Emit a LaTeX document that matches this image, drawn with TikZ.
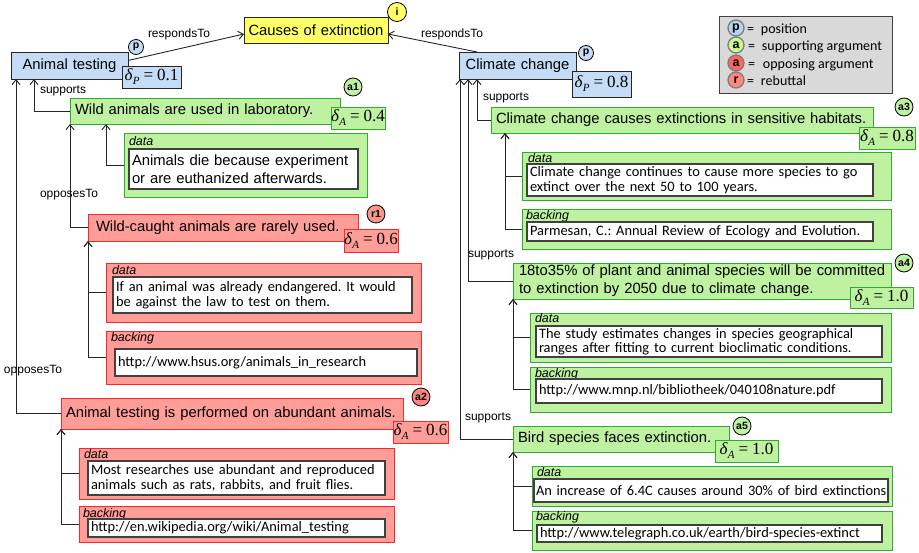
\documentclass[tikz,border=0pt]{standalone}
\usepackage{fontspec}
\setmainfont{Liberation Sans}
\newfontfamily\calib{Carlito}
\newfontfamily\timesf{Liberation Serif}
\usetikzlibrary{arrows.meta}
\frenchspacing

\definecolor{issuefill}{RGB}{255,255,102}
\definecolor{posfill}{RGB}{196,220,246}
\definecolor{supfill}{RGB}{190,241,160}
\definecolor{supline}{RGB}{52,168,52}
\definecolor{oppfill}{RGB}{255,158,152}
\definecolor{oppline}{RGB}{250,40,40}
\definecolor{rebfill}{RGB}{252,150,140}
\definecolor{keyfill}{RGB}{217,217,217}
\definecolor{keyline}{RGB}{125,125,125}
\definecolor{keypos}{RGB}{178,214,236}
\definecolor{keysup}{RGB}{204,250,150}
\definecolor{keyopp}{RGB}{255,100,100}
\definecolor{keyreb}{RGB}{255,135,125}

\newcommand\mainsize{\fontsize{14.8}{17.8}\selectfont}
\newcommand\calsize{\calib\fontsize{14.4}{14.5}\selectfont}
\newcommand\degsize{\timesf\fontsize{17}{17}\selectfont}
\newcommand\tagsize{\itshape\fontsize{12.5}{14}\selectfont}
\newcommand\lblsize{\fontsize{12}{14}\selectfont}
\newcommand\badgesize{\bfseries\fontsize{10.5}{11}\selectfont}
\newcommand\keysize{\bfseries\fontsize{12.5}{13}\selectfont}
\newcommand\oneline[1]{\mbox{#1}}
% degree label: italic delta with a subscript, then "= value"
\newcommand\degree[2]{\mbox{\itshape δ\kern0.3pt\raisebox{-4pt}{\fontsize{11}{11}\selectfont #1}\upshape\hspace{4pt}=\hspace{4pt}#2}}

% rectangle node given by its corners: style, name, x1, y1, x2, y2, inset, text
\newcommand\rectnode[8]{%
  \pgfmathsetmacro\rw{#5-#3}%
  \pgfmathsetmacro\rh{#6-#4}%
  \pgfmathsetmacro\tw{#5-#3-2*#7}%
  \node[#1, anchor=north west, inner xsep=#7pt, inner ysep=0pt,
        minimum width=\rw pt, minimum height=\rh pt, text width=\tw pt]
        (#2) at (#3,#4) {#8};}

\tikzset{
  every node/.style={inner sep=0pt, outer sep=0pt},
  frame/.style={draw, line width=0.8pt},
  issuebox/.style={frame, draw=black!85, fill=issuefill, font=\mainsize, align=center},
  posbox/.style={frame, draw=black!85, fill=posfill, font=\mainsize, align=center},
  supbox/.style={frame, draw=supline, fill=supfill, font=\mainsize, align=left},
  oppbox/.style={frame, draw=oppline, fill=oppfill, font=\mainsize, align=left},
  dpos/.style={frame, draw=black!85, fill=posfill, font=\degsize, align=center},
  dsup/.style={frame, draw=supline, fill=supfill, font=\degsize, align=center},
  dopp/.style={frame, draw=oppline, fill=oppfill, font=\degsize, align=center},
  supframe/.style={frame, draw=supline, fill=supfill},
  oppframe/.style={frame, draw=oppline, fill=oppfill},
  innerbox/.style={draw=black!75, line width=1.2pt, fill=white, font=\calsize, align=left},
  tag/.style={anchor=base west, font=\tagsize},
  lbl/.style={anchor=base west, font=\lblsize},
  badge/.style={circle, draw=black, line width=0.8pt, minimum size=17pt, font=\badgesize},
  key/.style={circle, draw=keyline, line width=1.3pt, minimum size=16pt, font=\keysize},
  keytext/.style={anchor=base west, font=\calib\fontsize{14}{16}\selectfont},
  conn/.style={draw=black!85, line width=0.9pt,
    -{Straight Barb[length=5pt, width=8pt, line width=0.9pt]}},
}

\begin{document}
\begin{tikzpicture}[x=1pt, y=-1pt]
\useasboundingbox (0,0) rectangle (919,552);
\fill[white] (0,0) rectangle (919,552);

% issue and positions
\rectnode{issuebox}{C}{244}{17}{388}{43}{3}{Causes of extinction}
\rectnode{posbox}{AT}{11}{52}{128}{79}{3}{Animal testing}
\rectnode{posbox}{CC}{459}{52}{576}{79}{3}{Climate change}
\rectnode{dpos}{dAT}{122}{66}{181}{88}{0}{\degree{P}{0.1}}
\rectnode{dpos}{dCC}{572}{71}{631}{97}{0}{\degree{P}{0.8}}

% key
\rectnode{frame, draw=black!75, fill=keyfill}{K}{719}{16}{892}{93}{0}{}
\node[key, fill=keypos] (k1) at (736,28) {p};
\node[key, fill=keysup] (k2) at (736,45) {a};
\node[key, fill=keyopp] (k3) at (736,63) {a};
\node[key, fill=keyreb] (k4) at (736,80) {r};
\node[keytext] (k1t) at (747,33) {=\hspace{7pt}position};
\node[keytext] (k2t) at (748,50) {=\hspace{7pt}supporting argument};
\node[keytext] (k3t) at (748,68) {=\hspace{8pt}opposing argument};
\node[keytext] (k4t) at (747,85) {=\hspace{7pt}rebuttal};

% ---- Animal testing branch ----
\rectnode{supbox}{A1}{70}{98}{340}{124}{5}{\oneline{Wild animals are used in laboratory.}}
\rectnode{dsup}{dA1}{331}{107}{385}{129}{0}{\degree{A}{0.4}}
\rectnode{supframe}{A1d}{124}{133}{367}{197}{0}{}
\node[tag] (A1dl) at (129,145) {data};
\rectnode{innerbox, font=\mainsize}{A1dt}{129}{149}{358}{189}{3}{\oneline{Animals die because experiment}\\\oneline{or are euthanized afterwards.}}

\rectnode{oppbox}{R1}{88}{214}{358}{241}{8}{\oneline{Wild-caught animals are rarely used.}}
\rectnode{dopp}{dR1}{344}{229}{398}{252}{0}{\degree{A}{0.6}}
\rectnode{oppframe}{R1d}{106}{263}{421}{322}{0}{}
\node[tag] (R1dl) at (112,274) {data};
\rectnode{innerbox}{R1dt}{113}{277}{412}{313}{3}{\oneline{If an animal was already endangered. It would}\\\oneline{be against the law to test on them.}}
\rectnode{oppframe}{R1b}{106}{331}{421}{384}{0}{}
\node[tag] (R1bl) at (111,341) {backing};
\rectnode{innerbox}{R1bt}{115}{349}{417}{376}{3}{\oneline{http://www.hsus.org/animals\_in\_research}}

\rectnode{oppbox}{A2}{61}{398}{403}{429}{5}{\oneline{Animal testing is performed on abundant animals.}}
\rectnode{dopp}{dA2}{393}{421}{448}{443}{0}{\degree{A}{0.6}}
\rectnode{oppframe}{A2d}{79}{448}{394}{499}{0}{}
\node[tag] (A2dl) at (84,458) {data};
\rectnode{innerbox}{A2dt}{88}{461}{385}{495}{3}{\oneline{Most researches use abundant and reproduced}\\\oneline{animals such as rats, rabbits, and fruit flies.}}
\rectnode{oppframe}{A2b}{79}{506}{394}{542}{0}{}
\node[tag] (A2bl) at (83,517) {backing};
\rectnode{innerbox}{A2bt}{88}{519}{385}{537}{3}{\oneline{http://en.wikipedia.org/wiki/Animal\_testing}}

% ---- Climate change branch ----
\rectnode{supbox}{A3}{491}{107}{873}{133}{5}{\oneline{Climate change causes extinctions in sensitive habitats.}}
\rectnode{dsup}{dA3}{859}{127}{915}{149}{0}{\degree{A}{0.8}}
\rectnode{supframe}{A3d}{522}{152}{891}{200}{0}{}
\node[tag] (A3dl) at (528,162) {data};
\rectnode{innerbox}{A3dt}{527}{164}{873}{196}{3}{\oneline{Climate change continues to cause more species to go}\\\oneline{extinct over the next 50 to 100 years.}}
\rectnode{supframe}{A3b}{522}{209}{891}{249}{0}{}
\node[tag] (A3bl) at (526,219) {backing};
\rectnode{innerbox}{A3bt}{527}{222}{873}{241}{3}{\oneline{Parmesan, C.: Annual Review of Ecology and Evolution.}}

\rectnode{supbox}{A4}{513}{263}{891}{299}{6}{\oneline{18to35\% of plant and animal species will be committed}\\\oneline{to extinction by 2050 due to climate change.}}
\rectnode{dsup}{dA4}{850}{287}{913}{308}{0}{\degree{A}{1.0}}
\rectnode{supframe}{A4d}{530}{313}{891}{362}{0}{}
\node[tag] (A4dl) at (535,322) {data};
\rectnode{innerbox}{A4dt}{536}{326}{882}{357}{3}{\oneline{The study estimates changes in species geographical}\\\oneline{ranges after fitting to current bioclimatic conditions.}}
\rectnode{supframe}{A4b}{530}{367}{891}{412}{0}{}
\node[tag] (A4bl) at (535,377) {backing};
\rectnode{innerbox}{A4bt}{536}{379}{882}{403}{3}{\oneline{http://www.mnp.nl/bibliotheek/040108nature.pdf}}

\rectnode{supbox}{A5}{513}{426}{729}{452}{5}{\oneline{Bird species faces extinction.}}
\rectnode{dsup}{dA5}{715}{440}{778}{462}{0}{\degree{A}{1.0}}
\rectnode{supframe}{A5d}{532}{466}{892}{506}{0}{}
\node[tag] (A5dl) at (537,476) {data};
\rectnode{innerbox}{A5dt}{534}{479}{888}{502}{2}{\oneline{An increase of 6.4C causes around 30\% of bird extinctions}}
\rectnode{supframe}{A5b}{532}{511}{892}{550}{0}{}
\node[tag] (A5bl) at (536,520) {backing};
\rectnode{innerbox}{A5bt}{537}{525}{882}{542}{3}{\oneline{http://www.telegraph.co.uk/earth/bird-species-extinct}}

% ---- connectors ----
\draw[conn] ([yshift=5pt]AT.east) -- ([yshift=-4pt]C.west);
\draw[conn] ([xshift=18pt]CC.north west) -- ([yshift=-4pt]C.east);
\node[lbl] (l1) at (148,37) {respondsTo};
\node[lbl] (l2) at (421,37) {respondsTo};

\draw[conn] (A1.west) -| ([xshift=23pt]AT.south west);
\draw[conn] (R1.west) -| (A1.south west);
\draw[conn] (A2.west) -| ([xshift=5pt]AT.south west);
\draw[conn] (A1d.west) -| ([xshift=36pt]A1.south west);
\draw[conn] (R1d.west) -| (R1.south west);
\draw[conn] (R1b.west) -| (R1.south west);
\draw[conn] (A2d.west) -| (A2.south west);
\draw[conn] (A2b.west) -| (A2.south west);
\node[lbl] (l3) at (40,93) {supports};
\node[lbl] (l4) at (40,197) {opposesTo};
\node[lbl] (l5) at (4,373) {opposesTo};

\draw[conn] (A3.west) -| ([xshift=18pt]CC.south west);
\draw[conn] (A4.west) -| ([xshift=9pt]CC.south west);
\draw[conn] (A5.west) -| ([xshift=1pt]CC.south west);
\draw[conn] (A3d.west) -| ([xshift=14pt]A3.south west);
\draw[conn] (A3b.west) -| ([xshift=14pt]A3.south west);
\draw[conn] (A4d.west) -| (A4.south west);
\draw[conn] (A4b.west) -| (A4.south west);
\draw[conn] (A5d.west) -| (A5.south west);
\draw[conn] (A5b.west) -| (A5.south west);
\node[lbl] (l6) at (483,100) {supports};
\node[lbl] (l7) at (468,257) {supports};
\node[lbl] (l8) at (465,420) {supports};

% ---- badges ----
\node[badge, fill=issuefill, minimum size=19pt] (bi) at (397,12) {i};
\node[badge, fill=posfill, minimum size=15pt] (bp1) at (136,47) {p};
\node[badge, fill=posfill, minimum size=15pt] (bp2) at (586,53) {p};
\node[badge, fill=supfill, minimum size=18pt] (ba1) at (353,87) {a1};
\node[badge, fill=rebfill, minimum size=18pt] (br1) at (376,214) {r1};
\node[badge, fill=oppfill!85!red, minimum size=18pt] (ba2) at (421,397) {a2};
\node[badge, fill=supfill, minimum size=18pt] (ba3) at (904,107) {a3};
\node[badge, fill=supfill, minimum size=18pt] (ba4) at (904,263) {a4};
\node[badge, fill=supfill, minimum size=18pt] (ba5) at (742,426) {a5};
\end{tikzpicture}
\end{document}
